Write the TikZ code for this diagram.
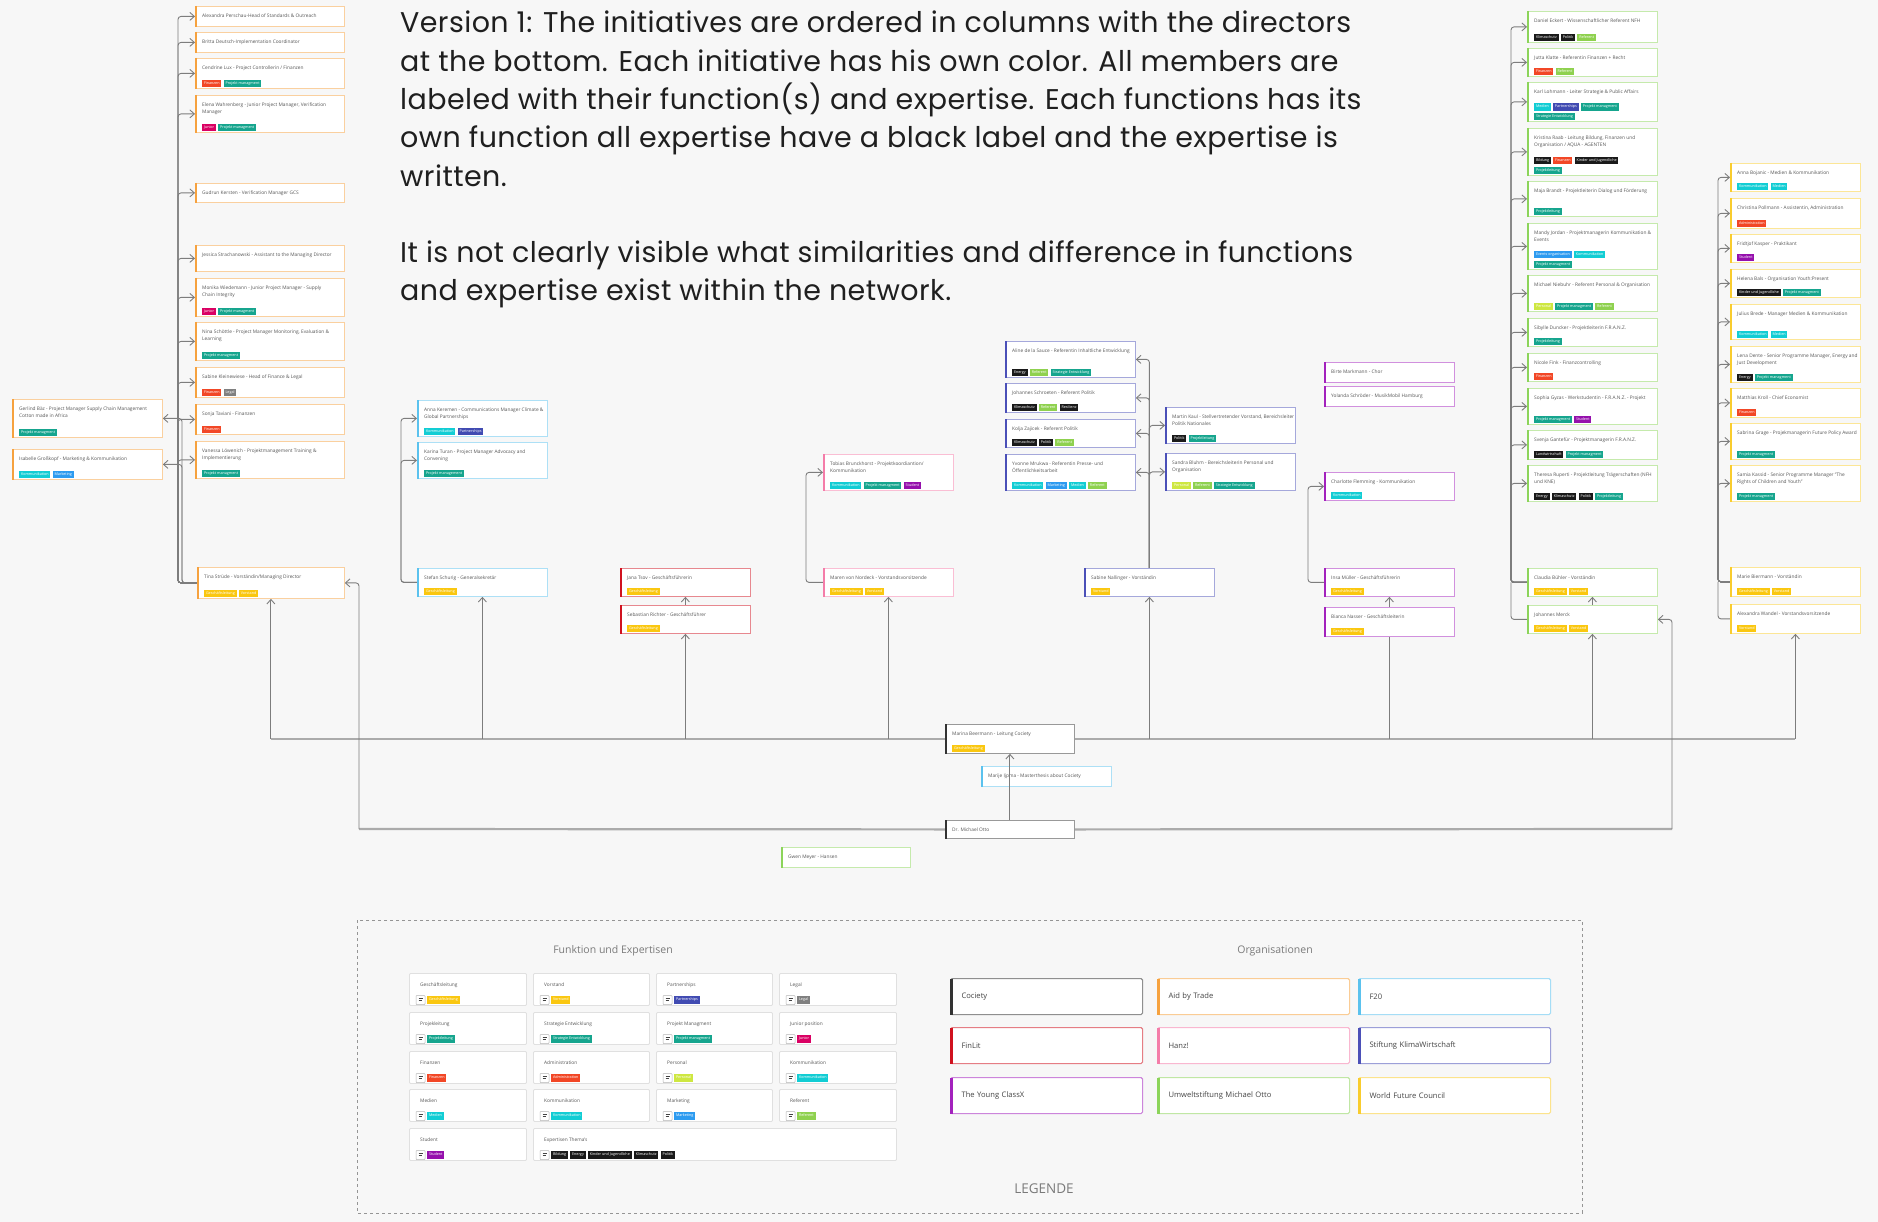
\documentclass[tikz,border=0pt]{standalone}
\usepackage{fontspec}
\setmainfont{Open Sans}
\newfontfamily\poppins[LetterSpace=1.5]{Poppins}
\usetikzlibrary{arrows.meta,calc}
\pgfdeclarelayer{back}
\pgfdeclarelayer{wires}
\pgfsetlayers{back,wires,main}

% organisation colours
\definecolor{aid}{HTML}{F6A23F}
\definecolor{ftwenty}{HTML}{5BC2EE}
\definecolor{finlit}{HTML}{D0121F}
\definecolor{hanz}{HTML}{F47DA9}
\definecolor{klima}{HTML}{4B50B8}
\definecolor{young}{HTML}{A322BD}
\definecolor{umwelt}{HTML}{8CD45A}
\definecolor{wfc}{HTML}{F9CC2E}
\definecolor{cociety}{HTML}{333333}
% function / expertise tag colours
\definecolor{cGL}{HTML}{FAC710}
\definecolor{cPA}{HTML}{414BB2}
\definecolor{cLE}{HTML}{808080}
\definecolor{cPL}{HTML}{16A58E}
\definecolor{cJU}{HTML}{DA0063}
\definecolor{cFI}{HTML}{F24726}
\definecolor{cPE}{HTML}{CEE741}
\definecolor{cKO}{HTML}{12CDD4}
\definecolor{cMA}{HTML}{2D9BF0}
\definecolor{cRE}{HTML}{8FD14F}
\definecolor{cST}{HTML}{9510AC}
\definecolor{cEX}{HTML}{1A1A1A}
% neutrals
\definecolor{bgc}{HTML}{F7F7F7}
\definecolor{connc}{HTML}{7D7D7D}
\definecolor{mainc}{HTML}{ABABAB}
\definecolor{titlec}{HTML}{555555}
\definecolor{legc}{HTML}{7A7A7A}
\definecolor{fboxc}{HTML}{E0E0E0}
\definecolor{icond}{HTML}{444444}

\tikzset{
  conn/.style={draw=connc, line width=0.9, rounded corners=3},
  arr/.style={-{Straight Barb[length=4.5pt,width=8pt]}},
  mainline/.style={draw=mainc, line width=2.2},
  mcard/.style={draw=#1!50, fill=white, line width=0.8, inner sep=0},
  ctitle/.style={font=\fontsize{4.8}{7}\selectfont, text=titlec, align=left, inner sep=0, anchor=north west},
  ftag/.style={fill=#1, text=white, font=\fontsize{3.7}{4}\selectfont, inner xsep=1.8, inner ysep=0,
               minimum height=7.5, text height=2.8, text depth=0.9, anchor=west},
  obox/.style={draw=#1!55, fill=white, line width=1.1, rounded corners=1.5, minimum height=36,
               text width=170, inner xsep=11, align=left, font=\fontsize{7.6}{9}\selectfont, text=titlec!80!black},
  fbox/.style={draw=fboxc, fill=white, line width=0.9, minimum height=32, inner sep=0, rounded corners=1},
  ftitle/.style={font=\fontsize{4.8}{6}\selectfont, text=titlec, anchor=west, inner sep=0},
  heading/.style={font=\fontsize{10.5}{12}\selectfont, text=legc, inner sep=0},
}

% a row of coloured tags starting at a point
\newcommand\tagsat[3]{%
  \coordinate (tagpos) at (#1);
  \foreach \tc/\tx [count=\k] in {#3} {
    \node[ftag=\tc] (#2-\k) at (tagpos) {\tx};
    \coordinate (tagpos) at ($(#2-\k.east)+(2,0)$);
  }}
% member card: name, colour, x, y, width, height, title
\newcommand\member[7]{%
  \node[mcard=#2, minimum width=#5, minimum height=#6, anchor=north west] (#1) at (#3,#4) {};
  \draw[#2, line width=1.8] ($(#1.north west)+(0.9,0)$) -- ($(#1.south west)+(0.9,0)$);
  \node[ctitle] (#1-t) at ($(#1.north west)+(7,8)$) {#7};}
% tag row inside a member card: card, lift above bottom, suffix, list
\newcommand\tagrow[4]{\tagsat{$(#1.south west)+(7,-#2)$}{#1-#3}{#4}}
% organisation legend box
\newcommand\orgbox[5]{%
  \node[obox=#2, anchor=north west] (#1) at (#3,#4) {#5};
  \draw[#2, line width=3] ($(#1.north west)+(1.5,0.5)$) -- ($(#1.south west)+(1.5,-0.5)$);}
% function legend card: name, x, y, width, title, tags
\newcommand\fcard[6]{%
  \node[fbox, minimum width=#4, anchor=north west] (#1) at (#2,#3) {};
  \node[ftitle] (#1-t) at ($(#1.north west)+(11,12)$) {#5};
  \draw[fboxc!80!black, fill=white, line width=0.5, rounded corners=0.8]
    ($(#1.north west)+(7,22.5)$) rectangle ($(#1.north west)+(16,31.5)$);
  \draw[icond, line width=0.9] ($(#1.north west)+(9.5,25.8)$) -- ++(4.5,0)
    ($(#1.north west)+(9.5,27.8)$) -- ++(3,0);
  \tagsat{$(#1.north west)+(18,27)$}{#1-g}{#6}}

\begin{document}
\begin{tikzpicture}[x=1pt,y=-1pt]
\useasboundingbox (0,0) rectangle (1878,1222);
\begin{pgfonlayer}{back}
  \fill[bgc] (0,0) rectangle (1878,1222);
\end{pgfonlayer}

% ---------- description ----------
\node[anchor=north west, inner sep=0, align=left, text=black!88,
      font=\poppins\fontsize{28.5}{38.3}\selectfont] (desc) at (400,11) {%
Version 1: The initiatives are ordered in columns with the directors\\
at the bottom. Each initiative has his own color. All members are\\
labeled with their function(s) and expertise. Each functions has its\\
own function all expertise have a black label and the expertise is\\
written.\\[38.3pt]
It is not clearly visible what similarities and difference in functions\\
and expertise exist within the network.};

% ---------- Aid by Trade ----------
\member{alexP}{aid}{195}{6}{149}{20}{Alexandra Perschau-Head of Standards \& Outreach}
\member{britta}{aid}{195}{32}{149}{20}{Britta Deutsch-Implementation Coordinator}
\member{cendrine}{aid}{195}{58}{149}{30}{Cendrine Lux - Project Controllerin / Finanzen}
\tagrow{cendrine}{5.5}{a}{cFI/Finanzen, cPL/Projekt managment}
\member{elena}{aid}{195}{95}{149}{37}{Elena Wahrenberg - Junior Project Manager, Verification\\Manager}
\tagrow{elena}{5.5}{a}{cJU/Junior, cPL/Projekt managment}
\member{gudrun}{aid}{195}{183}{149}{19}{Gudrun Kersten - Verification Manager GCS}
\member{jessica}{aid}{195}{245}{149}{26}{Jessica Strachanowski - Assistant to the Managing Director}
\member{monika}{aid}{195}{278}{149}{38}{Monika Wiedemann - Junior Project Manager  -  Supply\\Chain Integrity}
\tagrow{monika}{5.5}{a}{cJU/Junior, cPL/Projekt managment}
\member{nina}{aid}{195}{322}{149}{38}{Nina Schöttle - Project Manager Monitoring, Evaluation \&\\Learning}
\tagrow{nina}{5.5}{a}{cPL/Projekt managment}
\member{sabineK}{aid}{195}{367}{149}{30}{Sabine Kleinewiese - Head of Finance \& Legal}
\tagrow{sabineK}{5.5}{a}{cFI/Finanzen, cLE/Legal}
\member{sonja}{aid}{195}{404}{149}{30}{Sonja Taviani - Finanzen}
\tagrow{sonja}{5.5}{a}{cFI/Finanzen}
\member{vanessa}{aid}{195}{441}{149}{37}{Vanessa Löwenich - Projektmanagement Training \&\\Implementierung}
\tagrow{vanessa}{5.5}{a}{cPL/Projekt managment}
\member{gerlind}{aid}{12}{399}{150}{38}{Gerlind Bäz - Project Manager Supply Chain Management\\Cotton made in Africa}
\tagrow{gerlind}{5.5}{a}{cPL/Projekt managment}
\member{isabelle}{aid}{12}{449}{150}{30}{Isabelle Großkopf - Marketing \& Kommunikation}
\tagrow{isabelle}{5.5}{a}{cKO/Kommunikation, cMA/Marketing}
\member{tina}{aid}{197}{567}{147}{31}{Tina Strüde - Vorständin/Managing Director}
\tagrow{tina}{5.5}{a}{cGL/Geschäftsleitung, cGL/Vorstand}

% ---------- F20 ----------
\member{anna}{ftwenty}{417}{400}{130}{36}{Anna Keremen - Communications Manager Climate \&\\Global Partnerships}
\tagrow{anna}{5.5}{a}{cKO/Kommunikation, cPA/Partnerships}
\member{karina}{ftwenty}{417}{442}{130}{36}{Karina Turan - Project Manager Advocacy and\\Convening}
\tagrow{karina}{5.5}{a}{cPL/Projekt management}
\member{stefan}{ftwenty}{417}{568}{130}{28}{Stefan Schurig - Generalsekretär}
\tagrow{stefan}{5.5}{a}{cGL/Geschäftsleitung}

% ---------- FinLit ----------
\member{jana}{finlit}{620}{568}{130}{28}{Jana Tsov - Geschäftsführerin}
\tagrow{jana}{5.5}{a}{cGL/Geschäftsleitung}
\member{sebastian}{finlit}{620}{605}{130}{28}{Sebastian Richter - Geschäftsführer}
\tagrow{sebastian}{5.5}{a}{cGL/Geschäftsleitung}

% ---------- Hanz! ----------
\member{tobias}{hanz}{823}{454}{130}{36}{Tobias Brunckhorst - Projektkoordiantion/\\Kommunikation}
\tagrow{tobias}{5.5}{a}{cKO/Kommunikation, cPL/Projekt managment, cST/Student}
\member{maren}{hanz}{823}{568}{130}{28}{Maren von Nordeck - Vorstandsvorsitzende}
\tagrow{maren}{5.5}{a}{cGL/Geschäftsleitung, cGL/Vorstand}

% ---------- Stiftung KlimaWirtschaft ----------
\member{aline}{klima}{1005}{341}{130}{36}{Aline de la Sauce - Referentin Inhaltliche Entwicklung}
\tagrow{aline}{5.5}{a}{cEX/Energy, cRE/Referent, cPL/Strategie Entwicklung}
\member{johS}{klima}{1005}{383}{130}{29}{Johannes Schroeten - Referent Politik}
\tagrow{johS}{5.5}{a}{cEX/Klimaschutz, cRE/Referent, cEX/Resilienz}
\member{kolja}{klima}{1005}{419}{130}{28}{Kolja Zajicek - Referent Politik}
\tagrow{kolja}{5.5}{a}{cEX/Klimaschutz, cEX/Politik, cRE/Referent}
\member{yvonne}{klima}{1005}{454}{130}{36}{Yvonne Mrukwa - Referentin Presse-  und\\Öffentlichkeitsarbeit}
\tagrow{yvonne}{5.5}{a}{cKO/Kommunikation, cMA/Marketing, cKO/Medien, cRE/Referent}
\member{martin}{klima}{1165}{407}{130}{36}{Martin Kaul - Stellvertretender Vorstand, Bereichsleiter\\Politik Nationales}
\tagrow{martin}{5.5}{a}{cEX/Politik, cPL/Projektleitung}
\member{sandra}{klima}{1165}{453}{130}{37}{Sandra Bluhm - Bereichsleiterin Personal und\\Organisation}
\tagrow{sandra}{5.5}{a}{cPE/Personal, cRE/Referent, cPL/Strategie Entwicklung}
\member{sabineN}{klima}{1084}{568}{130}{28}{Sabine Nallinger - Vorständin}
\tagrow{sabineN}{5.5}{a}{cGL/Vorstand}

% ---------- The Young ClassX ----------
\member{birte}{young}{1324}{362}{130}{20}{Birte Markmann - Chor}
\member{yolanda}{young}{1324}{386}{130}{20}{Yolanda Schröder - MusikMobil Hamburg}
\member{charlotte}{young}{1324}{472}{130}{28}{Charlotte Flemming - Kommunikation}
\tagrow{charlotte}{5.5}{a}{cKO/Kommunikation}
\member{insa}{young}{1324}{568}{130}{28}{Insa Müller - Geschäftsführerin}
\tagrow{insa}{5.5}{a}{cGL/Geschäftsleitung}
\member{bianca}{young}{1324}{607}{130}{29}{Bianca Nasser - Geschäftsleiterin}
\tagrow{bianca}{5.5}{a}{cGL/Geschäftsleitung}

% ---------- Umweltstiftung Michael Otto ----------
\member{daniel}{umwelt}{1527}{11}{130}{31}{Daniel Eckert - Wissenschaftlicher Referent NFH}
\tagrow{daniel}{5.5}{a}{cEX/Klimaschutz, cEX/Politik, cRE/Referent}
\member{jutta}{umwelt}{1527}{48}{130}{28}{Jutta Klatte - Referentin Finanzen + Recht}
\tagrow{jutta}{5.5}{a}{cFI/Finanzen, cRE/Referent}
\member{karl}{umwelt}{1527}{82}{130}{39}{Karl Lohmann - Leiter Strategie \& Public Affairs}
\tagrow{karl}{15}{a}{cKO/Medien, cPA/Partnerships, cPL/Projekt managment}
\tagrow{karl}{5.5}{b}{cPL/Strategie Entwicklung}
\member{kristina}{umwelt}{1527}{128}{130}{47}{Kristina Raab - Leitung Bildung, Finanzen und\\Organisation / AQUA - AGENTEN}
\tagrow{kristina}{15.5}{a}{cEX/Bildung, cFI/Finanzen, cEX/Kinder und Jugendliche}
\tagrow{kristina}{5.5}{b}{cPL/Projektleitung}
\member{maja}{umwelt}{1527}{181}{130}{35}{Maja Brandt - Projektleiterin Dialog und Förderung}
\tagrow{maja}{5.5}{a}{cPL/Projektleitung}
\member{mandy}{umwelt}{1527}{223}{130}{46}{Mandy Jordan - Projektmanagerin Kommunikation \&\\Events}
\tagrow{mandy}{15.5}{a}{cMA/Events organisation, cKO/Kommunikation}
\tagrow{mandy}{5.5}{b}{cPL/Projekt managment}
\member{michael}{umwelt}{1527}{275}{130}{36}{Michael Niebuhr - Referent Personal \& Organisation}
\tagrow{michael}{5.5}{a}{cPE/Personal, cPL/Projekt managment, cRE/Referent}
\member{sibylle}{umwelt}{1527}{318}{130}{28}{Sibylle Duncker - Projektleiterin F.R.A.N.Z.}
\tagrow{sibylle}{5.5}{a}{cPL/Projektleitung}
\member{nicole}{umwelt}{1527}{353}{130}{28}{Nicole Fink - Finanzcontrolling}
\tagrow{nicole}{5.5}{a}{cFI/Finanzen}
\member{sophia}{umwelt}{1527}{388}{130}{36}{Sophia Gyzas - Werkstudentin  -  F.R.A.N.Z. - Projekt}
\tagrow{sophia}{5.5}{a}{cPL/Projekt managment, cST/Student}
\member{svenja}{umwelt}{1527}{430}{130}{29}{Svenja Gantefür - Projektmanagerin F.R.A.N.Z.}
\tagrow{svenja}{5.5}{a}{cEX/Landwirtschaft, cPL/Projekt managment}
\member{theresa}{umwelt}{1527}{465}{130}{36}{Theresa Ruperti - Projektleitung Trägerschaften (NFH\\und KNE)}
\tagrow{theresa}{5.5}{a}{cEX/Energy, cEX/Klimaschutz, cEX/Politik, cPL/Projektleitung}
\member{claudia}{umwelt}{1527}{568}{130}{28}{Claudia Bühler - Vorständin}
\tagrow{claudia}{5.5}{a}{cGL/Geschäftsleitung, cGL/Vorstand}
\member{merck}{umwelt}{1527}{605}{130}{28}{Johannes Merck}
\tagrow{merck}{5.5}{a}{cGL/Geschäftsleitung, cGL/Vorstand}

% ---------- World Future Council ----------
\member{annaB}{wfc}{1730}{163}{130}{28}{Anna Bojanic - Medien \& Kommunikation}
\tagrow{annaB}{5.5}{a}{cKO/Kommunikation, cKO/Medien}
\member{christina}{wfc}{1730}{198}{130}{30}{Christina Pollmann - Assistentin, Administration}
\tagrow{christina}{5.5}{a}{cFI/Administration}
\member{fridtjof}{wfc}{1730}{234}{130}{28}{Fridtjof Kasper - Praktikant}
\tagrow{fridtjof}{5.5}{a}{cST/Student}
\member{helena}{wfc}{1730}{269}{130}{28}{Helena Bals - Organisation Youth:Present}
\tagrow{helena}{5.5}{a}{cEX/Kinder und Jugendliche, cPL/Projekt managment}
\member{julius}{wfc}{1730}{304}{130}{35}{Julius Brede - Manager Medien \& Kommunikation}
\tagrow{julius}{5.5}{a}{cKO/Kommunikation, cKO/Medien}
\member{lena}{wfc}{1730}{346}{130}{36}{Lena Dente - Senior Programme Manager, Energy and\\Just Development}
\tagrow{lena}{5.5}{a}{cEX/Energy, cPL/Projekt managment}
\member{matthias}{wfc}{1730}{388}{130}{29}{Matthias Kroll - Chief Economist}
\tagrow{matthias}{5.5}{a}{cFI/Finanzen}
\member{sabrina}{wfc}{1730}{423}{130}{36}{Sabrina Grage - Projekmanagerin Future Policy Award}
\tagrow{sabrina}{5.5}{a}{cPL/Projekt managment}
\member{samia}{wfc}{1730}{465}{130}{36}{Samia Kassid - Senior Programme Manager "The\\Rights of Children and Youth"}
\tagrow{samia}{5.5}{a}{cPL/Projekt managment}
\member{marie}{wfc}{1730}{567}{130}{29}{Marie Biermann - Vorständin}
\tagrow{marie}{5.5}{a}{cGL/Geschäftsleitung, cGL/Vorstand}
\member{wandel}{wfc}{1730}{604}{130}{29}{Alexandra Wandel - Vorstandsvorsitzende}
\tagrow{wandel}{5.5}{a}{cGL/Vorstand}

% ---------- Cociety and directors ----------
\member{marina}{cociety}{945}{724}{129}{29}{Marina Beermann - Leitung Cociety}
\tagrow{marina}{5.5}{a}{cGL/Geschäftsleitung}
\member{marije}{ftwenty}{981}{766}{130}{20}{Marije Ijpma - Masterthesis about Cociety}
\member{otto}{cociety}{945}{820}{129}{18}{Dr. Michael Otto}
\member{gwen}{umwelt}{781}{847}{129}{20}{Gwen Meyer - Hansen}

% ---------- connectors ----------
\begin{pgfonlayer}{wires}
  \foreach \m in {alexP,britta,cendrine,elena,gudrun,jessica,monika,nina,sabineK,sonja,vanessa}
    \draw[conn,arr] (tina.west) -- ++(-19,0) |- (\m.west);
  \foreach \m in {gerlind,isabelle}
    \draw[conn,arr] (tina.west) -- ++(-15,0) |- (\m.east);
  \foreach \m in {anna,karina}
    \draw[conn,arr] (stefan.west) -- ++(-16,0) |- (\m.west);
  \draw[conn,arr] (maren.west) -- ++(-17,0) |- (tobias.west);
  \foreach \m in {aline,johS,kolja,yvonne}
    \draw[conn,arr] (sabineN.north) |- (\m.east);
  \foreach \m in {martin,sandra}
    \draw[conn,arr] (sabineN.north) |- (\m.west);
  \draw[conn,arr] (insa.west) -- ++(-16,0) |- (charlotte.west);
  \foreach \m in {daniel,jutta,karl,kristina,maja,mandy,michael,sibylle,nicole,sophia,svenja,theresa}
    \draw[conn,arr] (claudia.west) -- ++(-16,0) |- (\m.west);
  \draw[conn] (merck.west) -| ($(claudia.west)+(-16,0)$);
  \foreach \m in {annaB,christina,fridtjof,helena,julius,lena,matthias,sabrina,samia}
    \draw[conn,arr] (marie.west) -- ++(-12,0) |- (\m.west);
  \draw[conn] (wandel.west) -| ($(marie.west)+(-12,0)$);

  % Cociety line to all directors
  \draw[mainline] (tina.south |- marina.west) -- (marina.west);
  \draw[mainline] (marina.east) -- (wandel.south |- marina.east);
  \foreach \m in {tina,stefan,sebastian,maren,sabineN,merck,wandel}
    \draw[conn,arr] (\m.south |- marina.west) -- (\m.south);
  \draw[conn] (bianca.south |- marina.west) -- (bianca.south);
  \draw[conn,arr] (sebastian.north) -- (jana.south);
  \draw[conn,arr] (bianca.north) -- (insa.south);
  \draw[conn,arr] (merck.north) -- (claudia.south);

  % Dr. Michael Otto line
  \coordinate (ottoL) at (359,829);
  \coordinate (ottoR) at (1672,829);
  \draw[mainline] (otto.west) -- (ottoL);
  \draw[mainline] (otto.east) -- (ottoR);
  \draw[conn,arr] (ottoL) |- (tina.east);
  \draw[conn,arr] (ottoR) |- (merck.east);
\end{pgfonlayer}
\draw[conn,arr] (otto.north) -- (marina.south);

% ---------- legend ----------
\draw[legc!80, line width=0.9, dash pattern=on 3pt off 3pt] (357,920) rectangle (1582,1213);
\node[heading] (fhead) at (613,951) {Funktion und Expertisen};
\node[heading] (ohead) at (1275,951) {Organisationen};
\node[font=\fontsize{13.5}{15}\selectfont, text=legc, inner sep=0] (legende) at (1044,1189) {LEGENDE};

\fcard{fGL}{409}{973}{117}{Geschäftsleitung}{cGL/Geschäftsleitung}
\fcard{fVS}{533}{973}{116}{Vorstand}{cGL/Vorstand}
\fcard{fPA}{656}{973}{116}{Partnerships}{cPA/Partnerships}
\fcard{fLE}{779}{973}{117}{Legal}{cLE/Legal}
\fcard{fPL}{409}{1012}{117}{Projekleitung}{cPL/Projektleitung}
\fcard{fSE}{533}{1012}{116}{Strategie Entwicklung}{cPL/Strategie Entwicklung}
\fcard{fPM}{656}{1012}{116}{Projekt Managment}{cPL/Projekt managment}
\fcard{fJU}{779}{1012}{117}{Junior position}{cJU/Junior}
\fcard{fFI}{409}{1051}{117}{Finanzen}{cFI/Finanzen}
\fcard{fAD}{533}{1051}{116}{Administration}{cFI/Administration}
\fcard{fPE}{656}{1051}{116}{Personal}{cPE/Personal}
\fcard{fKO}{779}{1051}{117}{Kommunikation}{cKO/Kommunikation}
\fcard{fME}{409}{1089}{117}{Medien}{cKO/Medien}
\fcard{fKT}{533}{1089}{116}{Kommunikation}{cKO/Kommunikation}
\fcard{fMA}{656}{1089}{116}{Marketing}{cMA/Marketing}
\fcard{fRE}{779}{1089}{117}{Referent}{cRE/Referent}
\fcard{fST}{409}{1128}{117}{Student}{cST/Student}
\fcard{fEX}{533}{1128}{363}{Expertisen Thema's}{cEX/Bildung, cEX/Energy, cEX/Kinder und Jugendliche, cEX/Klimaschutz, cEX/Politik}

\orgbox{oCO}{cociety}{950}{978}{Cociety}
\orgbox{oAT}{aid}{1157}{978}{Aid by Trade}
\orgbox{oF2}{ftwenty}{1358}{978}{F20}
\orgbox{oFL}{finlit}{950}{1027}{FinLit}
\orgbox{oHZ}{hanz}{1157}{1027}{Hanz!}
\orgbox{oKW}{klima}{1358}{1027}{Stiftung KlimaWirtschaft}
\orgbox{oYC}{young}{950}{1077}{The Young ClassX}
\orgbox{oUM}{umwelt}{1157}{1077}{Umweltstiftung Michael Otto}
\orgbox{oWF}{wfc}{1358}{1077}{World Future Council}
\end{tikzpicture}
\end{document}
